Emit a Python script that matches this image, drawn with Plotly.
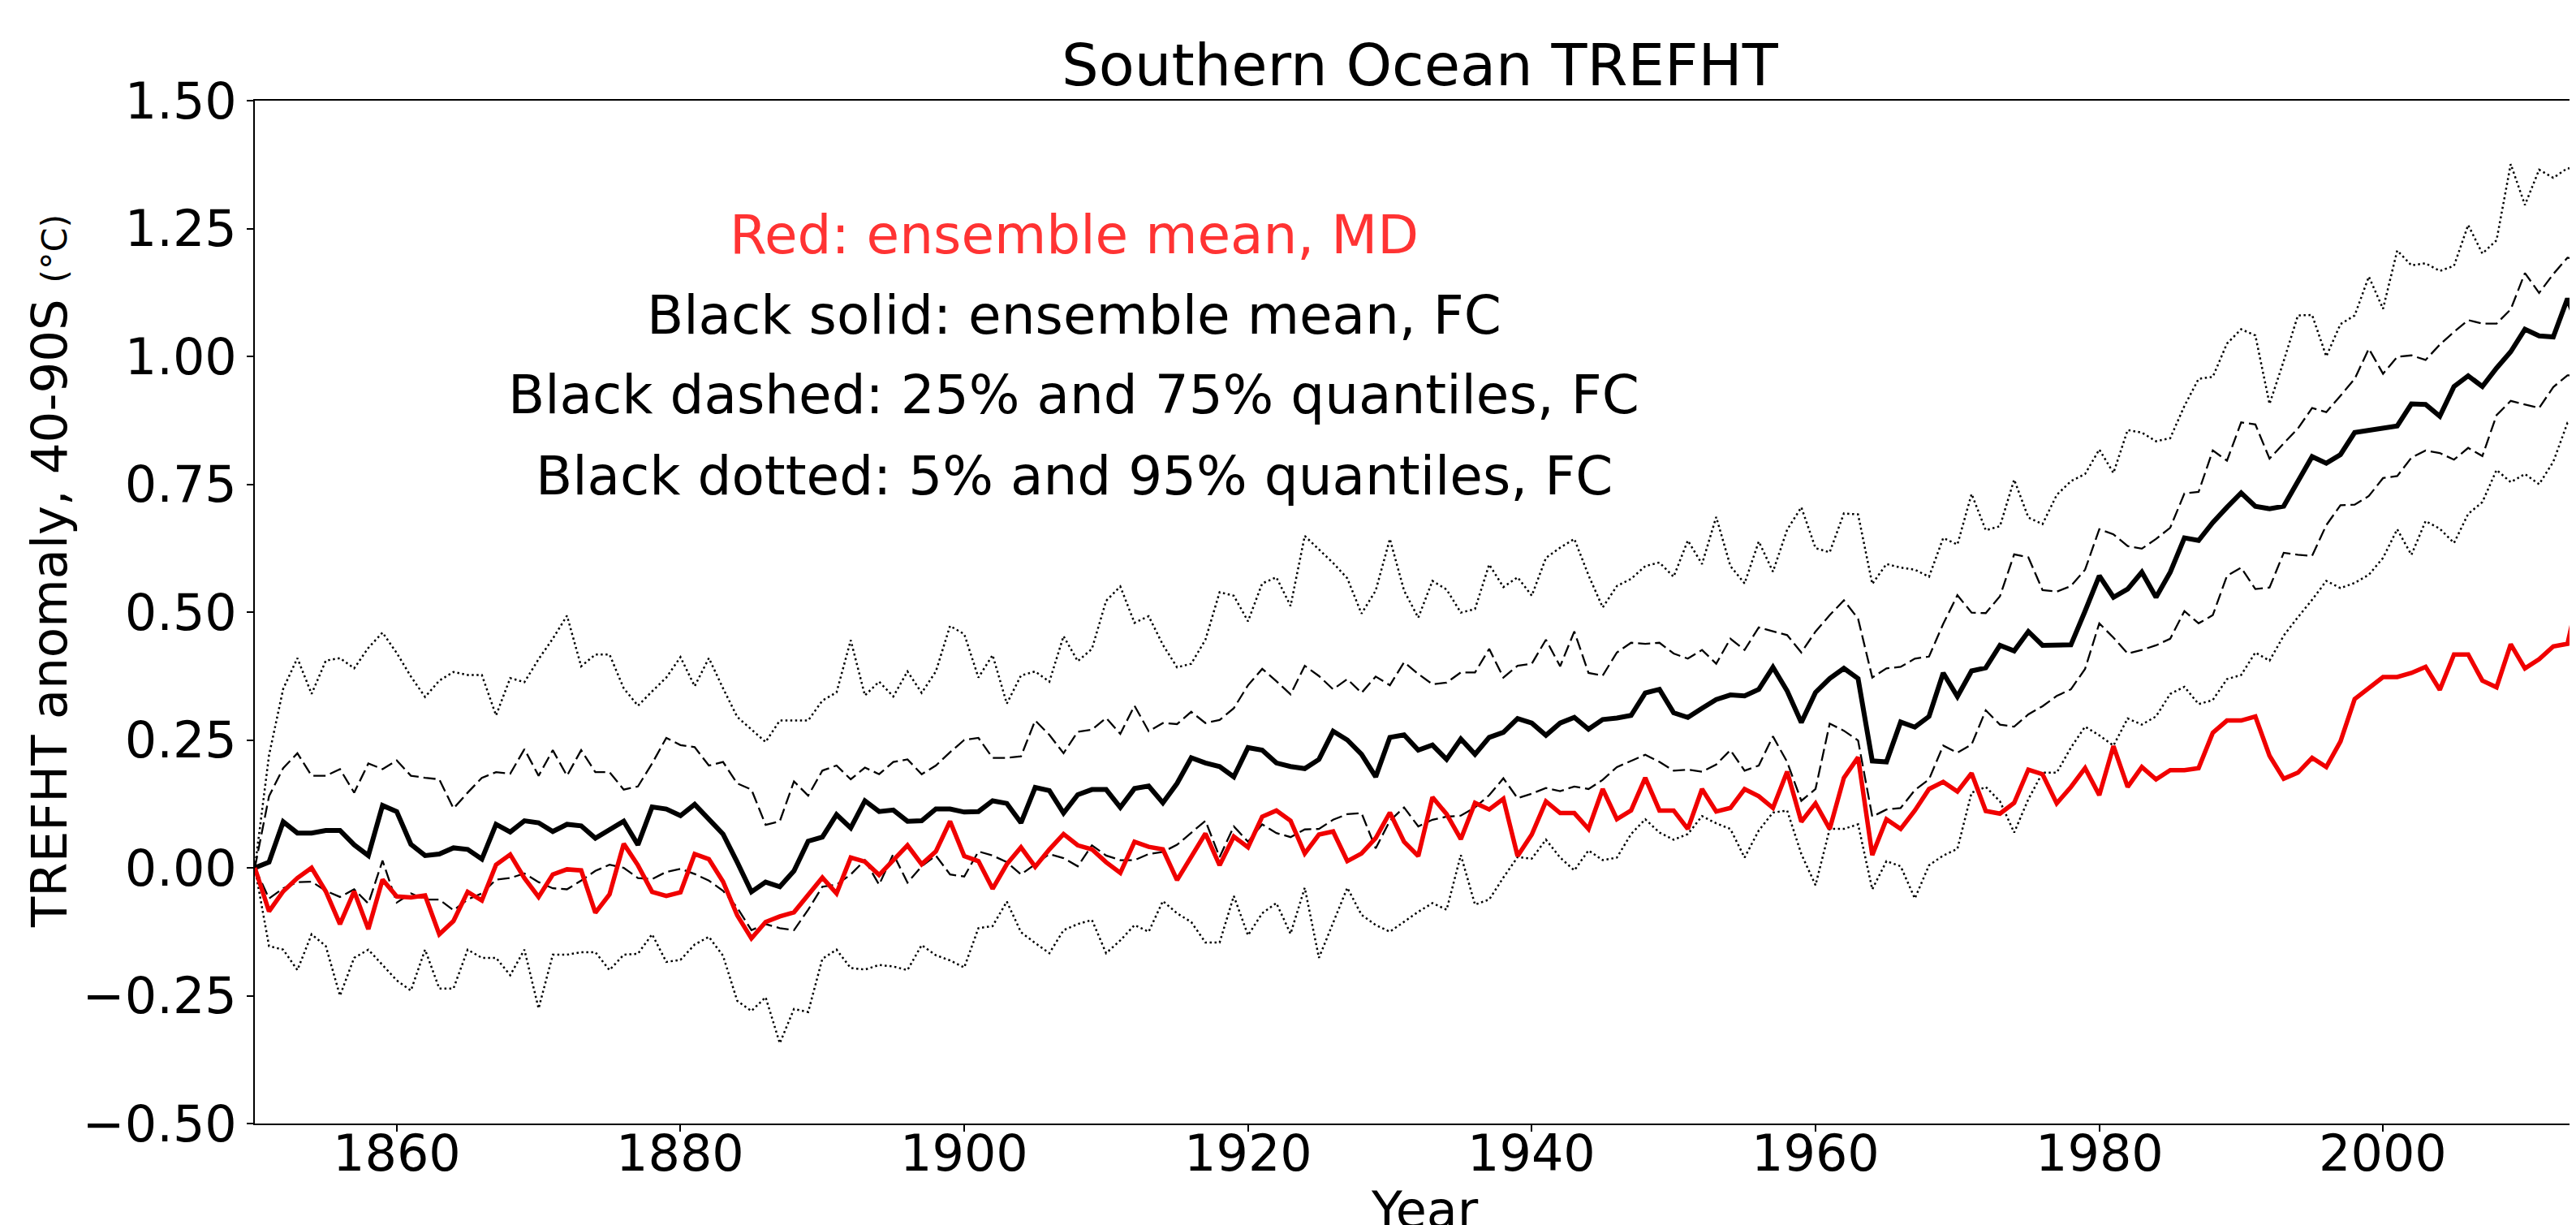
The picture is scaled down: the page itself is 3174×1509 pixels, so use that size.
import plotly.graph_objects as go

years = list(range(1850, 2015))

fc_mean = [
    0.000, 0.011, 0.090, 0.068, 0.068, 0.073, 0.073, 0.045, 0.024, 0.122,
    0.110, 0.046, 0.024, 0.027, 0.039, 0.036, 0.017, 0.085, 0.070, 0.092,
    0.088, 0.071, 0.085, 0.082, 0.058, 0.074, 0.091, 0.045, 0.119, 0.115,
    0.102, 0.124, 0.096, 0.066, 0.011, -0.047, -0.028, -0.037, -0.006, 0.052,
    0.060, 0.104, 0.078, 0.131, 0.110, 0.113, 0.091, 0.092, 0.115, 0.115,
    0.109, 0.110, 0.131, 0.126, 0.088, 0.157, 0.151, 0.107, 0.143, 0.153,
    0.153, 0.118, 0.155, 0.160, 0.127, 0.165, 0.215, 0.205, 0.198, 0.178,
    0.235, 0.230, 0.205, 0.198, 0.194, 0.212, 0.267, 0.250, 0.222, 0.178,
    0.255, 0.260, 0.230, 0.240, 0.212, 0.252, 0.222, 0.255, 0.265, 0.292,
    0.283, 0.259, 0.283, 0.294, 0.271, 0.290, 0.293, 0.298, 0.342, 0.349,
    0.303, 0.294, 0.312, 0.329, 0.338, 0.336, 0.349, 0.392, 0.346, 0.284,
    0.343, 0.370, 0.390, 0.370, 0.209, 0.207, 0.285, 0.275, 0.296, 0.381,
    0.335, 0.385, 0.391, 0.435, 0.424, 0.462, 0.435, 0.435, 0.436, 0.502,
    0.571, 0.529, 0.545, 0.578, 0.529, 0.578, 0.645, 0.640, 0.675, 0.705,
    0.733, 0.707, 0.702, 0.707, 0.756, 0.804, 0.791, 0.808, 0.851, 0.856,
    0.860, 0.864, 0.907, 0.906, 0.883, 0.941, 0.962, 0.941, 0.977, 1.009,
    1.053, 1.040, 1.038, 1.113, 1.040,
]

md_mean = [
    0.000, -0.085, -0.046, -0.020, 0.000, -0.046, -0.110, -0.046, -0.120, -0.023,
    -0.056, -0.058, -0.054, -0.130, -0.104, -0.047, -0.064, 0.006, 0.026, -0.020,
    -0.057, -0.013, -0.003, -0.005, -0.088, -0.052, 0.047, 0.005, -0.047, -0.055,
    -0.048, 0.027, 0.017, -0.027, -0.093, -0.138, -0.106, -0.095, -0.087, -0.053,
    -0.019, -0.050, 0.020, 0.012, -0.014, 0.015, 0.044, 0.007, 0.032, 0.091,
    0.023, 0.013, -0.041, 0.007, 0.040, 0.002, 0.036, 0.066, 0.044, 0.036,
    0.011, -0.010, 0.051, 0.041, 0.036, -0.024, 0.021, 0.067, 0.005, 0.061,
    0.040, 0.100, 0.112, 0.092, 0.028, 0.065, 0.071, 0.013, 0.028, 0.058,
    0.108, 0.051, 0.023, 0.138, 0.105, 0.056, 0.127, 0.114, 0.135, 0.023,
    0.065, 0.130, 0.107, 0.107, 0.076, 0.154, 0.095, 0.112, 0.176, 0.112,
    0.112, 0.076, 0.154, 0.110, 0.117, 0.154, 0.140, 0.117, 0.188, 0.090,
    0.126, 0.076, 0.176, 0.216, 0.025, 0.095, 0.076, 0.112, 0.154, 0.168,
    0.149, 0.185, 0.111, 0.106, 0.127, 0.192, 0.183, 0.126, 0.158, 0.195,
    0.142, 0.238, 0.158, 0.197, 0.173, 0.191, 0.191, 0.195, 0.264, 0.288,
    0.288, 0.296, 0.219, 0.174, 0.186, 0.215, 0.197, 0.247, 0.330, 0.351,
    0.373, 0.373, 0.381, 0.393, 0.348, 0.417, 0.417, 0.366, 0.353, 0.437,
    0.390, 0.408, 0.433, 0.438, 0.560,
]

fc_q75 = [
    0.000, 0.140, 0.195, 0.224, 0.180, 0.180, 0.193, 0.147, 0.204, 0.193,
    0.210, 0.180, 0.176, 0.173, 0.116, 0.147, 0.176, 0.187, 0.184, 0.232,
    0.180, 0.230, 0.180, 0.230, 0.187, 0.187, 0.153, 0.159, 0.204, 0.254,
    0.240, 0.236, 0.200, 0.207, 0.165, 0.153, 0.084, 0.091, 0.169, 0.141,
    0.190, 0.200, 0.173, 0.196, 0.183, 0.207, 0.212, 0.183, 0.200, 0.226,
    0.250, 0.254, 0.215, 0.215, 0.218, 0.288, 0.260, 0.224, 0.266, 0.270,
    0.293, 0.262, 0.317, 0.267, 0.283, 0.281, 0.305, 0.283, 0.289, 0.312,
    0.357, 0.389, 0.365, 0.339, 0.395, 0.375, 0.349, 0.369, 0.342, 0.374,
    0.357, 0.402, 0.379, 0.359, 0.362, 0.382, 0.382, 0.428, 0.372, 0.395,
    0.399, 0.446, 0.394, 0.462, 0.381, 0.376, 0.421, 0.440, 0.438, 0.440,
    0.419, 0.409, 0.426, 0.399, 0.448, 0.426, 0.470, 0.462, 0.455, 0.421,
    0.462, 0.494, 0.523, 0.487, 0.372, 0.390, 0.393, 0.409, 0.413, 0.477,
    0.533, 0.499, 0.498, 0.531, 0.613, 0.607, 0.543, 0.540, 0.551, 0.583,
    0.662, 0.652, 0.629, 0.624, 0.643, 0.665, 0.732, 0.735, 0.816, 0.796,
    0.871, 0.867, 0.800, 0.830, 0.859, 0.899, 0.891, 0.923, 0.956, 1.015,
    0.966, 0.999, 1.002, 0.993, 1.023, 1.048, 1.071, 1.064, 1.064, 1.092,
    1.163, 1.124, 1.161, 1.193, 1.188,
]

fc_q25 = [
    0.000, -0.060, -0.040, -0.028, -0.027, -0.045, -0.057, -0.042, -0.070, 0.014,
    -0.068, -0.050, -0.062, -0.062, -0.083, -0.062, -0.050, -0.023, -0.020, -0.011,
    -0.028, -0.040, -0.042, -0.025, -0.006, 0.006, 0.000, -0.020, -0.022, -0.008,
    -0.002, -0.012, -0.025, -0.045, -0.078, -0.122, -0.110, -0.118, -0.122, -0.082,
    -0.037, -0.033, -0.013, 0.015, -0.033, 0.027, -0.029, 0.003, 0.024, -0.013,
    -0.017, 0.032, 0.024, 0.011, -0.013, 0.007, 0.027, 0.019, 0.003, 0.044,
    0.024, 0.015, 0.015, 0.027, 0.031, 0.045, 0.068, 0.092, 0.021, 0.081,
    0.051, 0.085, 0.068, 0.060, 0.075, 0.076, 0.094, 0.105, 0.107, 0.038,
    0.092, 0.118, 0.081, 0.094, 0.100, 0.102, 0.118, 0.142, 0.175, 0.136,
    0.145, 0.156, 0.150, 0.159, 0.154, 0.172, 0.197, 0.209, 0.221, 0.207,
    0.190, 0.192, 0.188, 0.202, 0.230, 0.190, 0.200, 0.257, 0.207, 0.131,
    0.154, 0.282, 0.268, 0.249, 0.100, 0.114, 0.117, 0.152, 0.173, 0.239,
    0.225, 0.241, 0.308, 0.280, 0.276, 0.300, 0.316, 0.336, 0.349, 0.389,
    0.478, 0.450, 0.419, 0.426, 0.435, 0.448, 0.502, 0.478, 0.494, 0.571,
    0.587, 0.545, 0.548, 0.616, 0.612, 0.610, 0.670, 0.709, 0.710, 0.727,
    0.762, 0.766, 0.802, 0.816, 0.811, 0.798, 0.821, 0.805, 0.885, 0.913,
    0.906, 0.899, 0.940, 0.963, 0.963,
]

fc_q95 = [
    0.000, 0.220, 0.350, 0.410, 0.340, 0.405, 0.410, 0.390, 0.430, 0.460,
    0.420, 0.374, 0.334, 0.366, 0.383, 0.377, 0.377, 0.298, 0.371, 0.363,
    0.408, 0.448, 0.493, 0.394, 0.417, 0.417, 0.351, 0.317, 0.345, 0.372,
    0.412, 0.355, 0.410, 0.351, 0.295, 0.270, 0.246, 0.288, 0.288, 0.288,
    0.327, 0.343, 0.445, 0.337, 0.364, 0.335, 0.384, 0.342, 0.384, 0.473,
    0.457, 0.372, 0.416, 0.321, 0.376, 0.384, 0.364, 0.453, 0.404, 0.428,
    0.522, 0.550, 0.479, 0.492, 0.436, 0.392, 0.399, 0.446, 0.539, 0.532,
    0.482, 0.556, 0.568, 0.512, 0.649, 0.623, 0.596, 0.566, 0.497, 0.542,
    0.643, 0.542, 0.489, 0.561, 0.544, 0.499, 0.506, 0.593, 0.549, 0.568,
    0.532, 0.606, 0.626, 0.643, 0.572, 0.509, 0.551, 0.565, 0.590, 0.597,
    0.569, 0.640, 0.594, 0.686, 0.590, 0.556, 0.638, 0.579, 0.661, 0.705,
    0.625, 0.617, 0.693, 0.691, 0.555, 0.594, 0.587, 0.583, 0.569, 0.645,
    0.632, 0.731, 0.660, 0.668, 0.759, 0.685, 0.672, 0.729, 0.756, 0.770,
    0.818, 0.772, 0.856, 0.851, 0.834, 0.840, 0.903, 0.956, 0.960, 1.025,
    1.053, 1.041, 0.907, 0.991, 1.080, 1.081, 1.000, 1.063, 1.080, 1.156,
    1.093, 1.207, 1.178, 1.182, 1.167, 1.177, 1.257, 1.201, 1.227, 1.376,
    1.296, 1.365, 1.349, 1.368, 1.365,
]

fc_q05 = [
    0.000, -0.153, -0.160, -0.200, -0.130, -0.153, -0.250, -0.176, -0.160, -0.190,
    -0.220, -0.240, -0.160, -0.236, -0.236, -0.160, -0.176, -0.176, -0.210, -0.160,
    -0.275, -0.170, -0.170, -0.165, -0.165, -0.200, -0.170, -0.168, -0.130, -0.184,
    -0.180, -0.150, -0.135, -0.172, -0.260, -0.280, -0.253, -0.343, -0.276, -0.282,
    -0.178, -0.160, -0.196, -0.199, -0.190, -0.193, -0.200, -0.151, -0.171, -0.181,
    -0.195, -0.118, -0.114, -0.066, -0.126, -0.147, -0.167, -0.122, -0.110, -0.102,
    -0.167, -0.142, -0.112, -0.125, -0.065, -0.089, -0.106, -0.146, -0.146, -0.055,
    -0.132, -0.089, -0.069, -0.129, -0.039, -0.176, -0.106, -0.039, -0.092, -0.112,
    -0.125, -0.106, -0.086, -0.069, -0.082, 0.025, -0.072, -0.062, -0.019, 0.021,
    0.018, 0.055, 0.020, -0.005, 0.034, 0.015, 0.020, 0.066, 0.095, 0.069,
    0.055, 0.066, 0.101, 0.087, 0.076, 0.020, 0.073, 0.108, 0.112, 0.027,
    -0.034, 0.076, 0.076, 0.085, -0.042, 0.013, 0.003, -0.060, 0.005, 0.024,
    0.037, 0.147, 0.158, 0.130, 0.069, 0.134, 0.186, 0.186, 0.235, 0.276,
    0.259, 0.239, 0.292, 0.280, 0.296, 0.340, 0.354, 0.320, 0.328, 0.369,
    0.377, 0.421, 0.405, 0.454, 0.490, 0.524, 0.561, 0.547, 0.557, 0.573,
    0.606, 0.662, 0.612, 0.678, 0.663, 0.635, 0.692, 0.715, 0.778, 0.754,
    0.770, 0.750, 0.794, 0.870, 0.869,
]

x_ticks = [1860, 1880, 1900, 1920, 1940, 1960, 1980, 2000]
x_tick_labels = ["1860", "1880", "1900", "1920", "1940", "1960", "1980", "2000"]
y_ticks = [-0.5, -0.25, 0.0, 0.25, 0.5, 0.75, 1.0, 1.25, 1.5]

title_text = "Southern Ocean TREFHT"
xlabel_text = "Year"
ylabel_text = "TREFHT anomaly, 40-90S <span style='font-size:43px'>(°C)</span>"
note_lines = [
    ("Red: ensemble mean, MD", "#ff3333"),
    ("Black solid: ensemble mean, FC", "black"),
    ("Black dashed: 25% and 75% quantiles, FC", "black"),
    ("Black dotted: 5% and 95% quantiles, FC", "black"),
]

FONT = "DejaVu Sans"
OFF = 8                      # page body margin of the browser
W, H = 3174 - OFF, 1509 - OFF
ML, MR, MT, MB = 314 - OFF, 0, 124 - OFF, 125
PW = W - ML - MR
PH = H - MT - MB


def px_x(p):
    return (p - OFF - ML) / PW


def px_y(p):
    return (H - MB - (p - OFF)) / PH


fig = go.Figure()
for ys in (fc_q95, fc_q05):
    fig.add_trace(go.Scatter(x=years, y=ys, mode="lines",
                             line=dict(color="black", width=2.5, dash="2.5px,3.5px")))
for ys in (fc_q75, fc_q25):
    fig.add_trace(go.Scatter(x=years, y=ys, mode="lines",
                             line=dict(color="black", width=2.3, dash="15px,6px")))
fig.add_trace(go.Scatter(x=years, y=fc_mean, mode="lines",
                         line=dict(color="black", width=6)))
fig.add_trace(go.Scatter(x=years, y=md_mean, mode="lines",
                         line=dict(color="#f00000", width=5.5)))

annotations = [
    dict(text=title_text, x=px_x(1750), y=px_y(80), xref="paper", yref="paper",
         xanchor="center", yanchor="middle", showarrow=False,
         font=dict(family=FONT, size=72, color="black")),
    dict(text=xlabel_text, x=px_x(1755), y=px_y(1490), xref="paper", yref="paper",
         xanchor="center", yanchor="middle", showarrow=False,
         font=dict(family=FONT, size=62, color="black")),
    dict(text=ylabel_text, x=px_x(60), y=px_y(704), xref="paper", yref="paper",
         xanchor="center", yanchor="middle", showarrow=False, textangle=-90,
         font=dict(family=FONT, size=61, color="black")),
]
for i, (txt, col) in enumerate(note_lines):
    annotations.append(dict(text=txt, x=px_x(1323), y=px_y(289 + 99 * i),
                            xref="paper", yref="paper", xanchor="center",
                            yanchor="middle", showarrow=False,
                            font=dict(family=FONT, size=66, color=col)))
# x tick labels placed on the x scale, just below the tick marks
for tv, tl in zip(x_ticks, x_tick_labels):
    annotations.append(dict(text=tl, x=tv, xref="x", y=px_y(1421), yref="paper",
                            xanchor="center", yanchor="middle", showarrow=False,
                            font=dict(family=FONT, size=62, color="black")))

fig.update_layout(
    width=W, height=H,
    margin=dict(l=ML, r=MR, t=MT, b=MB, pad=0),
    paper_bgcolor="white", plot_bgcolor="white",
    showlegend=False,
    font=dict(family=FONT, color="black"),
    annotations=annotations,
    xaxis=dict(range=[1850, 2013.6], tickvals=x_ticks, ticks="outside",
               ticklen=8, tickwidth=1.6, tickcolor="black",
               showticklabels=False,
               showline=True, linecolor="black", linewidth=1.6, mirror=True,
               showgrid=False, zeroline=False),
    yaxis=dict(range=[-0.5, 1.5], tickvals=y_ticks, tickformat=".2f",
               ticks="outside", ticklen=8, tickwidth=1.6, tickcolor="black",
               showline=True, linecolor="black", linewidth=1.6, mirror=False,
               showgrid=False, zeroline=False,
               tickfont=dict(family=FONT, size=62, color="black")),
)

fig.write_html("out.html")
